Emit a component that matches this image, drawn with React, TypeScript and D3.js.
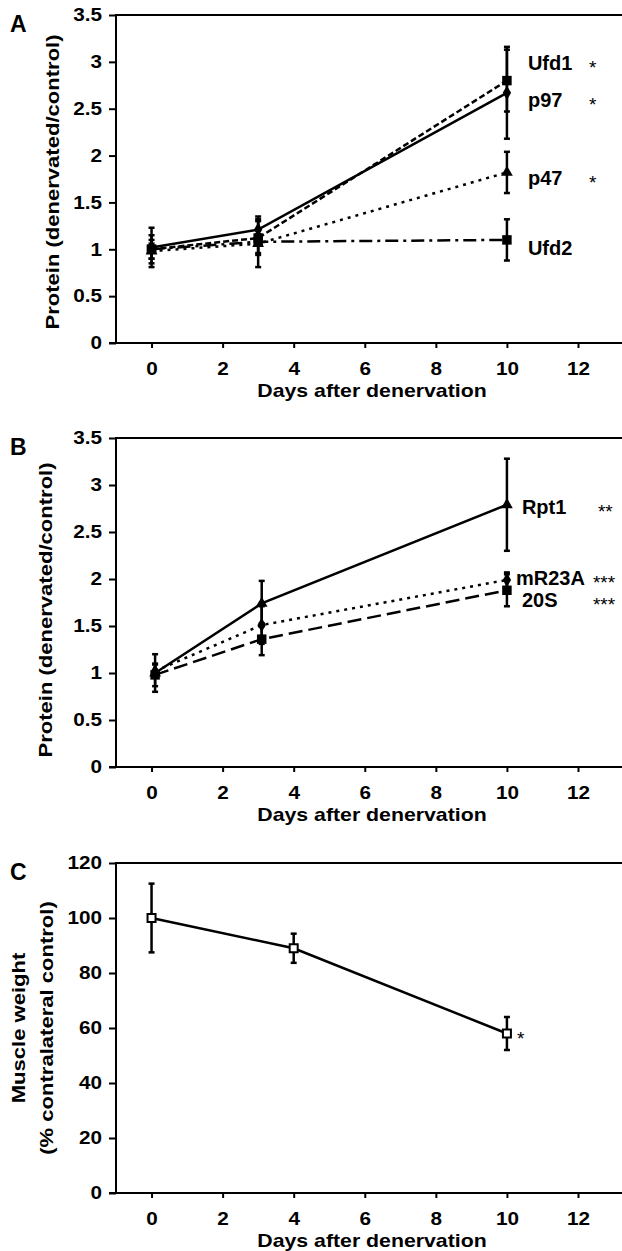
import { useEffect, useRef } from 'react';
import * as d3 from 'd3';

// Panel A: p97 pathway proteins
const daysA = [0, 3, 10];
const ufd1 = [1.0, 1.12, 2.8];
const ufd1Err = [0.1, 0.18, 0.33];
const p97 = [1.02, 1.21, 2.67];
const p97Err = [0.21, 0.11, 0.49];
const p47 = [0.98, 1.06, 1.82];
const p47Err = [0.08, 0.1, 0.22];
const ufd2 = [1.0, 1.08, 1.1];
const ufd2Err = [0.15, 0.27, 0.22];

// Panel B: proteasome subunits
const daysB = [0.1, 3.1, 10];
const rpt1 = [1.0, 1.74, 2.79];
const rpt1Err = [0.2, 0.24, 0.49];
const mr23a = [1.02, 1.51, 1.99];
const mr23aErr = [0.07, 0.2, 0.08];
const s20 = [0.98, 1.36, 1.88];
const s20Err = [0.12, 0.17, 0.17];

// Panel C: muscle weight
const daysC = [0, 4, 10];
const weight = [100, 89, 58];
const weightErr = [12.5, 5.3, 6];

const xTicks = [0, 2, 4, 6, 8, 10, 12];
const proteinTicks = [0, 0.5, 1, 1.5, 2, 2.5, 3, 3.5];
const weightTicks = [0, 20, 40, 60, 80, 100, 120];

const FONT = '"Liberation Sans", Arial, Helvetica, sans-serif';

// the original figure's lettering is a bit wider than Arial
const widen = (sel: any, k: number) => {
  sel.each(function (this: any) {
    const w = this.getComputedTextLength();
    if (w > 0) {
      d3.select(this).attr('textLength', w * k).attr('lengthAdjust', 'spacingAndGlyphs');
    }
  });
};

const App = () => {
  const svgRef = useRef<SVGSVGElement>(null);

  useEffect(() => {
    document.body.style.margin = '0';
    const svg = d3.select(svgRef.current);
    svg.selectAll('*').remove();

    const x = d3.scaleLinear().domain([-1, 12]).range([116, 578]);
    const left = 116;
    const right = 622;

    const drawPanel = (cfg: any) => {
      const y = d3.scaleLinear().domain([0, cfg.yMax]).range([cfg.bottom, cfg.top]);
      const g = svg.append('g');

      // top frame line
      g.append('line')
        .attr('x1', left).attr('x2', right)
        .attr('y1', cfg.top).attr('y2', cfg.top)
        .attr('stroke', '#000').attr('stroke-width', 2);

      // y axis
      const ya = g.append('g')
        .attr('transform', `translate(${left},0)`)
        .call(d3.axisLeft(y).tickValues(cfg.yTicks).tickSize(7).tickPadding(7).tickSizeOuter(0).tickFormat((d: any) => String(d)));
      ya.select('.domain').remove();
      ya.selectAll('line').attr('stroke-width', 2);
      ya.selectAll('text').style('font-family', FONT).style('font-weight', 'bold').style('font-size', '18px').attr('fill', '#000');
      widen(ya.selectAll('text'), 1.15);
      g.append('line')
        .attr('x1', left).attr('x2', left)
        .attr('y1', cfg.top - 1).attr('y2', cfg.bottom + 1)
        .attr('stroke', '#000').attr('stroke-width', 2);

      // x axis
      const xa = g.append('g')
        .attr('transform', `translate(0,${cfg.bottom})`)
        .call(d3.axisBottom(x).tickValues(xTicks).tickSize(5).tickPadding(14).tickSizeOuter(0));
      xa.select('.domain').remove();
      xa.selectAll('line').attr('stroke-width', 2);
      xa.selectAll('text').style('font-family', FONT).style('font-weight', 'bold').style('font-size', '18px').attr('fill', '#000');
      widen(xa.selectAll('text'), 1.15);
      g.append('line')
        .attr('x1', left - 7).attr('x2', right)
        .attr('y1', cfg.bottom).attr('y2', cfg.bottom)
        .attr('stroke', '#000').attr('stroke-width', 2);

      // titles
      const xt = g.append('text')
        .attr('x', 372).attr('y', cfg.bottom + 54)
        .attr('text-anchor', 'middle')
        .style('font-family', FONT).style('font-weight', 'bold').style('font-size', '19px')
        .text('Days after denervation');
      widen(xt, 1.12);
      cfg.yTitle.forEach((t: any) => {
        const yt = g.append('text')
          .attr('transform', `translate(${t.x},${t.y}) rotate(-90)`)
          .attr('text-anchor', 'middle')
          .style('font-family', FONT).style('font-weight', 'bold').style('font-size', '19px')
          .text(t.text);
        widen(yt, 1.16);
      });
      g.append('text')
        .attr('x', 10).attr('y', cfg.top + 17)
        .style('font-family', FONT).style('font-weight', 'bold').style('font-size', '23px')
        .text(cfg.letter);

      // series
      cfg.series.forEach((s: any) => {
        const pts = s.days.map((d: number, i: number) => [d, s.values[i], s.errs[i]]);
        const line = d3.line<any>().x(p => x(p[0])).y(p => y(p[1]));
        g.append('path')
          .datum(pts)
          .attr('d', line)
          .attr('fill', 'none')
          .attr('stroke', '#000')
          .attr('stroke-width', 2.5)
          .attr('stroke-dasharray', s.dash || null);

        pts.forEach((p: any) => {
          const cx = x(p[0]);
          const y1 = y(p[1] + p[2]);
          const y2 = y(p[1] - p[2]);
          g.append('line').attr('x1', cx).attr('x2', cx).attr('y1', y1).attr('y2', y2)
            .attr('stroke', '#000').attr('stroke-width', 2.5);
          [y1, y2].forEach(yy => {
            g.append('line').attr('x1', cx - 3).attr('x2', cx + 3).attr('y1', yy).attr('y2', yy)
              .attr('stroke', '#000').attr('stroke-width', 2.5);
          });
          g.append('path')
            .attr('d', d3.symbol().type(s.symbol).size(s.size)())
            .attr('transform', `translate(${cx},${y(p[1])})`)
            .attr('fill', s.open ? '#fff' : '#000')
            .attr('stroke', '#000')
            .attr('stroke-width', s.open ? 2 : 0);
        });

        const lx = x(s.days[s.days.length - 1]);
        const ly = y(s.values[s.values.length - 1]) + s.labelDy;
        if (s.name) {
          g.append('text')
            .attr('x', lx + s.labelDx).attr('y', ly + 7)
            .style('font-family', FONT).style('font-weight', 'bold').style('font-size', '20px')
            .text(s.name);
        }
        if (s.star) {
          g.append('text')
            .attr('x', lx + s.starDx).attr('y', ly + 11)
            .style('font-family', FONT).style('font-size', '19px')
            .text(s.star);
        }
      });
    };

    drawPanel({
      letter: 'A', top: 15, bottom: 343, yMax: 3.5, yTicks: proteinTicks,
      yTitle: [{ x: 59, y: 182, text: 'Protein (denervated/control)' }],
      series: [
        { name: 'Ufd1', star: '*', days: daysA, values: ufd1, errs: ufd1Err, dash: '6,3', symbol: d3.symbolSquare, size: 90, labelDx: 21, starDx: 82, labelDy: -18 },
        { name: 'p97', star: '*', days: daysA, values: p97, errs: p97Err, dash: null, symbol: d3.symbolDiamond, size: 60, labelDx: 21, starDx: 82, labelDy: 7 },
        { name: 'p47', star: '*', days: daysA, values: p47, errs: p47Err, dash: '3,5', symbol: d3.symbolTriangle, size: 60, labelDx: 21, starDx: 82, labelDy: 6 },
        { name: 'Ufd2', star: '', days: daysA, values: ufd2, errs: ufd2Err, dash: '13,5,3,5', symbol: d3.symbolSquare, size: 90, labelDx: 21, starDx: 82, labelDy: 8 },
      ],
    });

    drawPanel({
      letter: 'B', top: 438, bottom: 767, yMax: 3.5, yTicks: proteinTicks,
      yTitle: [{ x: 52, y: 610, text: 'Protein (denervated/control)' }],
      series: [
        { name: 'Rpt1', star: '**', days: daysB, values: rpt1, errs: rpt1Err, dash: null, symbol: d3.symbolTriangle, size: 60, labelDx: 15, starDx: 91, labelDy: 2 },
        { name: 'mR23A', star: '***', days: daysB, values: mr23a, errs: mr23aErr, dash: '3,5', symbol: d3.symbolDiamond, size: 60, labelDx: 9, starDx: 86, labelDy: -2 },
        { name: '20S', star: '***', days: daysB, values: s20, errs: s20Err, dash: '14,6', symbol: d3.symbolSquare, size: 90, labelDx: 15, starDx: 86, labelDy: 10 },
      ],
    });

    drawPanel({
      letter: 'C', top: 863, bottom: 1193, yMax: 120, yTicks: weightTicks,
      yTitle: [
        { x: 25, y: 1028, text: 'Muscle weight' },
        { x: 53, y: 1028, text: '(% contralateral control)' },
      ],
      series: [
        { name: '', star: '*', days: daysC, values: weight, errs: weightErr, dash: null, symbol: d3.symbolSquare, size: 64, open: true, labelDx: 10, starDx: 10, labelDy: 0 },
      ],
    });
  }, []);

  return (
    <svg ref={svgRef} width={622} height={1251} style={{ display: 'block', background: '#fff' }}></svg>
  );
};

export default App;
